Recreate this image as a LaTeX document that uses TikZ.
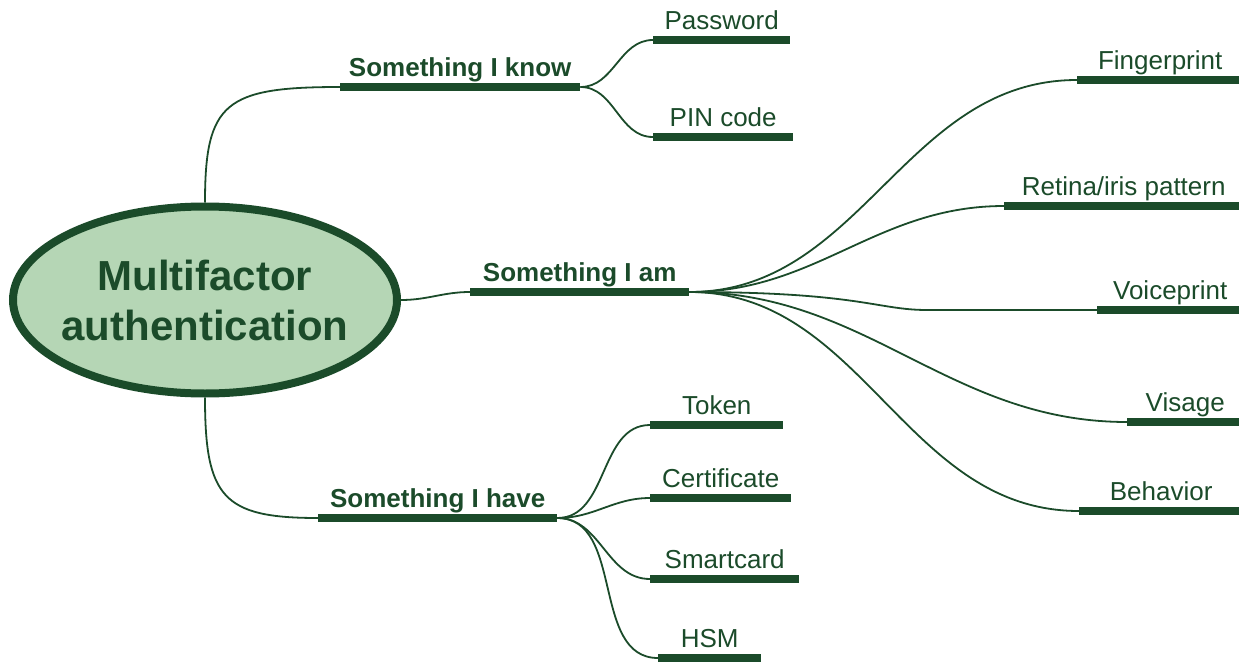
\documentclass[tikz,border=0pt]{standalone}
\usepackage{fontspec}
\setmainfont{Liberation Sans}
\usepackage{tikz}
\usepackage{xcolor}
\usetikzlibrary{positioning,shapes.geometric}
\definecolor{Forest}{HTML}{1B4B2A}
\definecolor{Sage}{HTML}{B5D6B5}
\tikzset{
  hub/.style={ellipse, draw=Forest, fill=Sage, line width=8pt,
    minimum width=384pt, minimum height=187pt, inner sep=0pt},
  hubtext/.style={text=Forest, align=center,
    font=\fontsize{42}{50}\selectfont\bfseries},
  branch/.style={anchor=south west, text=Forest, inner xsep=0pt,
    inner ysep=6pt, text depth=4.5pt, font=\fontsize{26}{30}\selectfont\bfseries},
  leaf/.style={branch, font=\fontsize{26}{30}\selectfont},
  bar/.style={draw=Forest, line width=7.5pt},
  link/.style={draw=Forest, line width=1.8pt}
}
% style, name, x, y, end of bar, text
\newcommand{\topic}[6]{
  \node[#1, minimum width={#5-#3}] (#2) at (#3,#4) {#6};
  \draw[bar] (#2.south west) -- (#2.south east);
}

\begin{document}
\begin{tikzpicture}[x=1pt, y=-1pt]
    \useasboundingbox (0,0) rectangle (1239,661);
    \node[hub, label={[hubtext]center:Multifactor\\authentication}] (mfa) at (205,300) {};
    % three factors
    \topic{branch}{know}{340}{87}{580}{Something I know}
    \topic{branch}{am}{470}{292}{689}{Something I am}
    \topic{branch}{have}{318}{518}{557}{Something I have}
    % what you know
    \topic{leaf}{pw}{653}{40}{790}{Password}
    \topic{leaf}{pin}{653}{137}{793}{PIN code}
    % what you are
    \topic{leaf}{finger}{1077}{80}{1243}{Fingerprint}
    \topic{leaf}{retina}{1004}{206}{1243}{Retina/iris pattern}
    \topic{leaf}{voice}{1097}{310}{1243}{Voiceprint}
    \topic{leaf}{visage}{1127}{422}{1243}{Visage}
    \topic{leaf}{behavior}{1079}{511}{1243}{Behavior}
    % what you have
    \topic{leaf}{token}{650}{425}{783}{Token}
    \topic{leaf}{cert}{650}{498}{791}{Certificate}
    \topic{leaf}{smart}{650}{579}{799}{Smartcard}
    \topic{leaf}{hsm}{658}{658}{761}{HSM}

    \draw[link] (mfa.north) .. controls +(0,-100) and +(-115,0) .. (know.south west);
    \draw[link] (mfa.east) to[out=0,in=180] (am.south west);
    \draw[link] (mfa.south) .. controls +(0,100) and +(-95,0) .. (have.south west);
    \foreach \k in {pw,pin}
      \draw[link] (know.south east) to[out=0,in=180] (\k.south west);
    \foreach \k in {finger,retina,visage,behavior}
      \draw[link] (am.south east) to[out=0,in=180] (\k.south west);
    \draw[link] (am.south east) .. controls +(170,0) and +(-50,0) .. ([xshift=-170pt]voice.south west) -- (voice.south west);
    \foreach \k in {token,cert,smart,hsm}
      \draw[link] (have.south east) to[out=0,in=180] (\k.south west);
  \end{tikzpicture}
\end{document}
